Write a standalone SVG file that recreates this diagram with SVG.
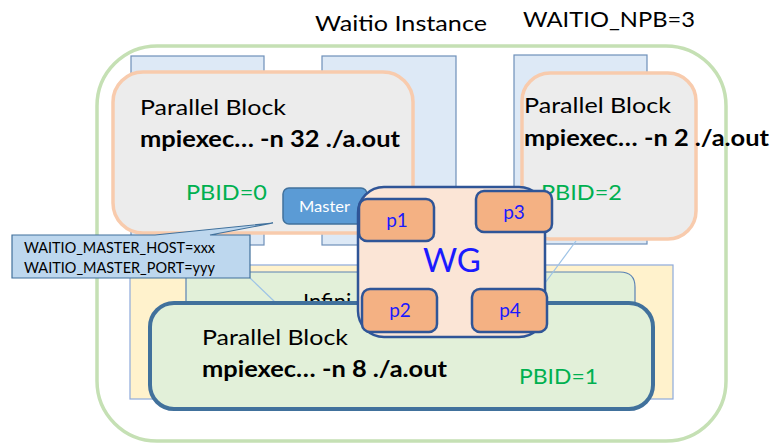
<svg xmlns="http://www.w3.org/2000/svg" width="775" height="446" viewBox="0 0 775 446">
<style>
text{font-family:Lato,"Liberation Sans",sans-serif;}
.bg{fill:#dde9f6;stroke:#6e90b9;stroke-width:1.2;}
.pbg{fill:#ececec;stroke:#f8cbad;stroke-width:3.5;}
.t{font-size:22px;fill:#000;}
.b{font-size:22px;font-weight:bold;fill:#000;}
.id{font-size:22px;fill:#00b050;}
.p{fill:#f4b183;stroke:#2f5597;stroke-width:2.5;}
.pl{font-size:19px;fill:#1a1aff;text-anchor:middle;}
.ln{stroke:#9dc3e6;stroke-width:1.2;fill:none;}
.cl{font-size:15px;fill:#000;}
</style>
<rect x="0" y="0" width="775" height="446" fill="#ffffff"/>
<g id="title">
<text class="t" x="315" y="31" textLength="172" lengthAdjust="spacingAndGlyphs">Waitio Instance</text>
<text class="t" x="523" y="27" textLength="172" lengthAdjust="spacingAndGlyphs">WAITIO_NPB=3</text>
</g>
<g id="instance">
<rect x="97" y="46" width="629" height="395" rx="60" ry="60" fill="none" stroke="#c5e0b4" stroke-width="3.5"/>
</g>
<g id="bgrects">
<rect class="bg" x="131" y="56" width="133" height="189"/>
<rect class="bg" x="322" y="56" width="134" height="189"/>
<rect class="bg" x="514" y="55" width="133" height="189"/>
</g>
<g id="pb0">
<rect class="pbg" x="113" y="72" width="300" height="161" rx="30" ry="30"/>
<text class="t" x="140" y="115" textLength="146" lengthAdjust="spacingAndGlyphs">Parallel Block</text>
<text class="b" x="140" y="147" textLength="260" lengthAdjust="spacingAndGlyphs">mpiexec… -n 32 ./a.out</text>
<text class="id" x="186" y="200" textLength="81" lengthAdjust="spacingAndGlyphs">PBID=0</text>
</g>
<g id="pb2">
<rect class="pbg" x="522" y="73" width="174" height="166" rx="28" ry="28"/>
<text class="t" x="524" y="113" textLength="147" lengthAdjust="spacingAndGlyphs">Parallel Block</text>
<text class="b" x="524" y="146" textLength="245" lengthAdjust="spacingAndGlyphs">mpiexec… -n 2 ./a.out</text>
<text class="id" x="541" y="200" textLength="81" lengthAdjust="spacingAndGlyphs">PBID=2</text>
</g>
<g id="network">
<rect x="130" y="265" width="543" height="134" fill="#fff2cc" stroke="#8eaadb" stroke-width="1.2"/>
<path d="M186,400 V272 H620 Q635,272 635,287 V400" fill="#e2f0d9" stroke="#5a82b4" stroke-width="1.2"/>
<text class="t" x="303" y="309">Infini</text>
</g>
<g id="connectors">
<line class="ln" x1="250" y1="278" x2="276" y2="303"/>
<line class="ln" x1="576" y1="241" x2="545" y2="283"/>
</g>
<g id="pb1">
<rect x="150" y="303" width="503" height="106" rx="24" ry="24" fill="#e2f0d9" stroke="#41719c" stroke-width="4"/>
<text class="t" x="202" y="345" textLength="146" lengthAdjust="spacingAndGlyphs">Parallel Block</text>
<text class="b" x="202" y="377" textLength="245" lengthAdjust="spacingAndGlyphs">mpiexec… -n 8 ./a.out</text>
<text class="id" x="519" y="384" textLength="79" lengthAdjust="spacingAndGlyphs">PBID=1</text>
</g>
<g id="callout">
<path d="M12,235 H155 L273,223 L210,235 H250 V278 H12 Z" fill="#bdd7ee" stroke="#41719c" stroke-width="1.2"/>
<text class="cl" x="24" y="253" textLength="191" lengthAdjust="spacingAndGlyphs">WAITIO_MASTER_HOST=xxx</text>
<text class="cl" x="24" y="273" textLength="191" lengthAdjust="spacingAndGlyphs">WAITIO_MASTER_PORT=yyy</text>
</g>
<g id="master">
<rect x="283" y="188" width="84" height="36" rx="6" ry="6" fill="#5b9bd5" stroke="#41719c" stroke-width="1.5"/>
<text x="299" y="212" font-size="15" fill="#ffffff" textLength="51" lengthAdjust="spacingAndGlyphs">Master</text>
</g>
<g id="wg">
<rect x="358" y="187" width="187" height="150" rx="26" ry="26" fill="#fbe5d6" stroke="#2f5597" stroke-width="2.5"/>
<text x="452" y="272" font-size="33" fill="#1a1aff" text-anchor="middle">WG</text>
</g>
<g id="p1">
<rect class="p" x="359" y="199" width="75" height="42" rx="8" ry="8"/>
<text class="pl" x="397" y="227">p1</text>
</g>
<g id="p3">
<rect class="p" x="476" y="191" width="76" height="41" rx="8" ry="8"/>
<text class="pl" x="514" y="219">p3</text>
</g>
<g id="p2">
<rect class="p" x="362" y="289" width="75" height="43" rx="8" ry="8"/>
<text class="pl" x="400" y="317">p2</text>
</g>
<g id="p4">
<rect class="p" x="472" y="289" width="75" height="43" rx="8" ry="8"/>
<text class="pl" x="510" y="317">p4</text>
</g>
</svg>
